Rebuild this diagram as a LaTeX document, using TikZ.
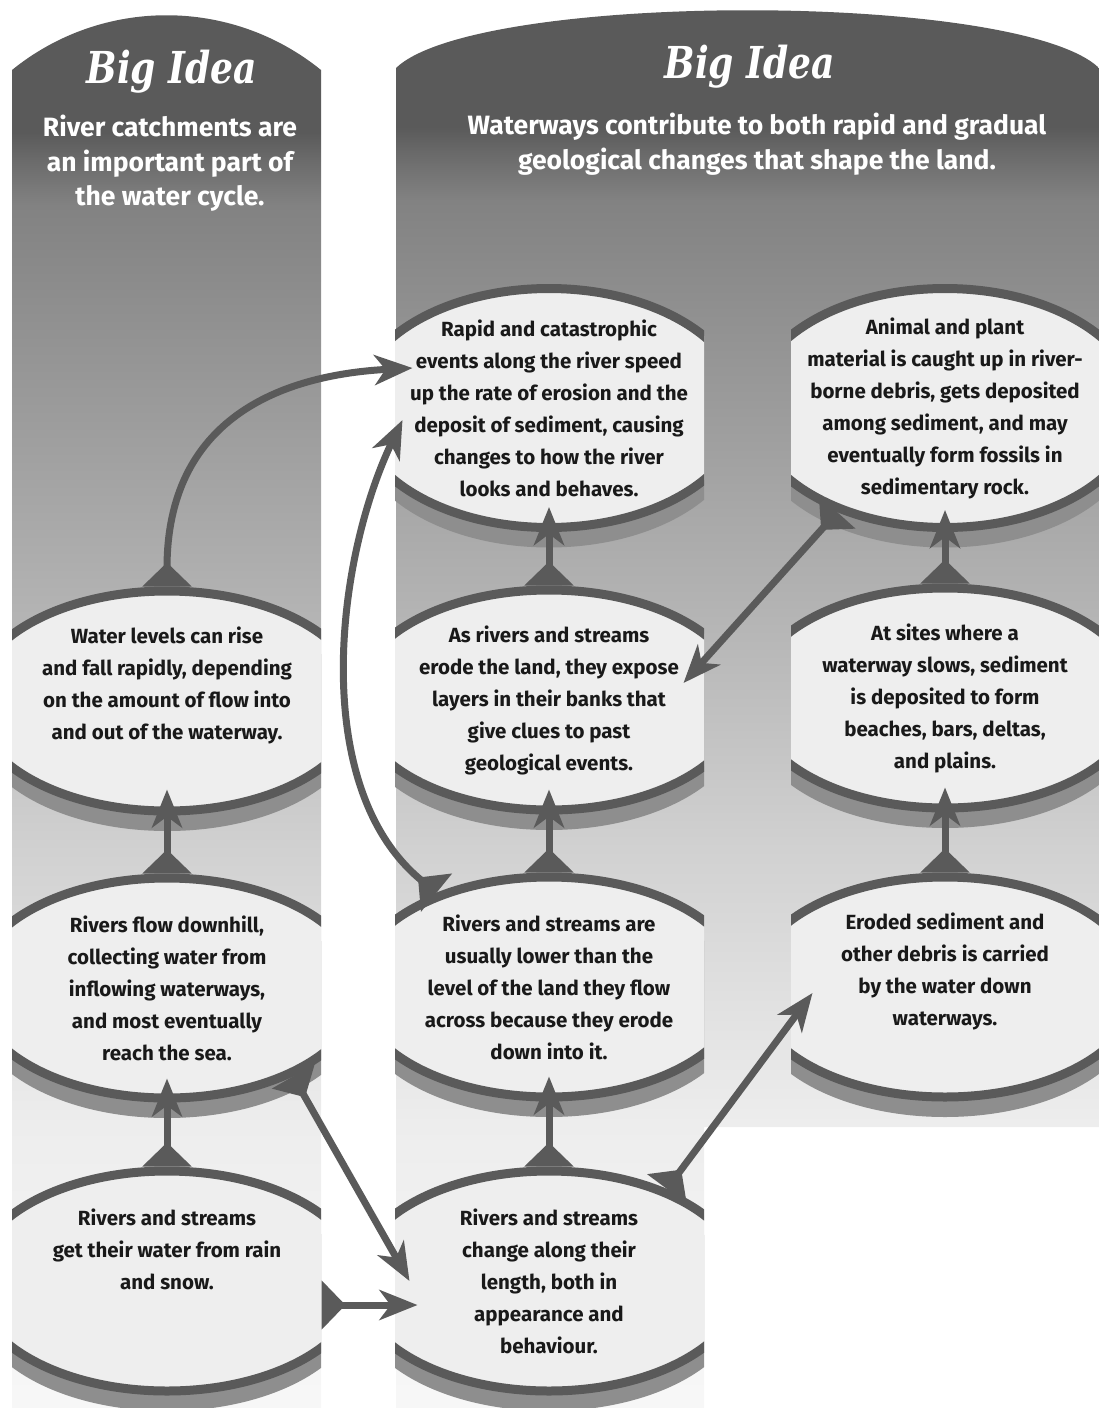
\documentclass[tikz,border=0pt]{standalone}
\usepackage{fontspec}
\setmainfont{Fira Sans}
\newfontfamily\ideafont{DejaVu Serif}[FakeStretch=0.82]
\usetikzlibrary{arrows.meta,positioning,shapes.geometric,shadows}

\definecolor{ink}{HTML}{5A5A5A}
\definecolor{paper}{HTML}{EEEEEE}
\definecolor{rim}{HTML}{8E8E8E}
\pgfdeclareverticalshading{bigidea}{100bp}{%
  color(0bp)=(black!3); color(25bp)=(black!3); color(35bp)=(black!7);
  color(44.7bp)=(black!18); color(53.5bp)=(black!30); color(64bp)=(black!44);
  color(67.6bp)=(black!49); color(69.2bp)=(black!58); color(70.2bp)=(ink);
  color(100bp)=(ink)}

\begin{document}
\begin{tikzpicture}[x=1pt, y=-1pt,
panel/.style={shading=bigidea},
bubble/.style={ellipse, draw=ink, fill=paper, line width=9pt, inner sep=0pt,
  minimum width=388pt, minimum height=220pt,
  general shadow={fill=rim, shadow xshift=0pt, shadow yshift=-20pt}},
tall/.style={minimum height=239pt},
txt/.style={align=center, inner sep=0pt, text=black!90,
  font=\fontsize{20.5}{32}\selectfont\bfseries},
idea/.style={anchor=base, inner sep=0pt, text=white,
  font=\ideafont\fontsize{44}{50}\selectfont\bfseries\itshape},
head/.style={anchor=north, align=center, inner sep=0pt, text=white,
  font=\fontsize{26.5}{34.5}\selectfont\bfseries},
link/.style={draw=ink, line width=7pt,
  arrows={Triangle[reversed, length=24pt, width=48pt]-Stealth[length=38pt, width=30pt, inset=11pt]}},
]
\useasboundingbox (0,0) rectangle (1099,1408);

% the two panels
\shade[panel] (12,1408) -- (12,70) .. controls (102,-3) and (231,-3) .. (321,70)
  -- (321,1408) -- cycle;
\shade[panel] (396,1408) -- (396,68) .. controls (476,-9) and (1019,-9) .. (1099,68)
  -- (1099,1127) -- (704,1127) -- (704,1408) -- cycle;

\node[idea] (idea-l) at (172,83) {Big Idea};
\node[idea] (idea-r) at (750,78) {Big Idea};
\node[head] (head-l) at (170,115) {River catchments are\\an important part of\\the water cycle.};
\node[head] (head-r) at (757,113) {Waterways contribute to both rapid and gradual\\geological changes that shape the land.};

% left column
\begin{scope}
\clip (12,0) rectangle (321,1408);
\node[bubble] (levels) at (167,701) {};
\node[bubble] (downhill) at (167,988) {};
\node[bubble] (rain) at (167,1281) {};
\end{scope}

% middle column
\begin{scope}
\clip (395,0) rectangle (704,1408);
\node[bubble, tall] (rapid) at (549,408) {};
\node[bubble] (expose) at (549,700) {};
\node[bubble] (lower) at (549,987) {};
\node[bubble] (change) at (549,1281) {};
\end{scope}

% right column
\begin{scope}
\clip (791,0) rectangle (1099,1127);
\node[bubble, tall] (fossils) at (945,408) {};
\node[bubble] (deposit) at (945,698) {};
\node[bubble] (carried) at (945,987) {};
\end{scope}

% links
\draw[link] (rain.north) -- ([yshift=24pt]downhill.south);
\draw[link] (downhill.north) -- ([yshift=26pt]levels.south);
\draw[link] (levels.north) .. controls +(0,-167) and +(-133,7) .. ([xshift=62pt,yshift=40pt]rapid.west);
\draw[link] (lower.140) .. controls +(-128,-104) and +(-67,140) .. ([xshift=52pt,yshift=-12pt]rapid.west);
\draw[link] (fossils.224) -- ([xshift=-64pt,yshift=17pt]expose.east);
\draw[link] (change.38) -- ([xshift=66pt,yshift=-6pt]carried.west);
\draw[link] (downhill.325) -- ([xshift=59pt]change.west);
\draw[link] ([xshift=-44pt,yshift=-24pt]rain.east) -- ([xshift=67pt,yshift=-24pt]change.west);
\draw[link] (change.north) -- ([yshift=25pt]lower.south);
\draw[link] (lower.north) -- ([yshift=25pt]expose.south);
\draw[link] (expose.north) -- ([yshift=25pt]rapid.south);
\draw[link] (carried.north) -- ([yshift=25pt]deposit.south);
\draw[link] (deposit.north) -- ([yshift=22pt]fossils.south);

% texts
\node[txt] (levels-t) at ([yshift=16pt]levels) {Water levels can rise\\and fall rapidly, depending\\on the amount of flow into\\and out of the waterway.};
\node[txt] (downhill-t) at (downhill) {Rivers flow downhill,\\collecting water from\\inflowing waterways,\\and most eventually\\reach the sea.};
\node[txt] (rain-t) at ([yshift=32pt]rain) {Rivers and streams\\get their water from rain\\and snow.};
\node[txt] (rapid-t) at (rapid) {Rapid and catastrophic\\events along the river speed\\up the rate of erosion and the\\deposit of sediment, causing\\changes to how the river\\looks and behaves.};
\node[txt] (expose-t) at (expose) {As rivers and streams\\erode the land, they expose\\layers in their banks that\\give clues to past\\geological events.};
\node[txt] (lower-t) at (lower) {Rivers and streams are\\usually lower than the\\level of the land they flow\\across because they erode\\down into it.};
\node[txt] (change-t) at (change) {Rivers and streams\\change along their\\length, both in\\appearance and\\behaviour.};
\node[txt] (fossils-t) at (fossils) {Animal and plant\\material is caught up in river-\\borne debris, gets deposited\\among sediment, and may\\eventually form fossils in\\sedimentary rock.};
\node[txt] (deposit-t) at (deposit) {At sites where a\\waterway slows, sediment\\is deposited to form\\beaches, bars, deltas,\\and plains.};
\node[txt] (carried-t) at ([yshift=16pt]carried) {Eroded sediment and\\other debris is carried\\by the water down\\waterways.};
\end{tikzpicture}
\end{document}
